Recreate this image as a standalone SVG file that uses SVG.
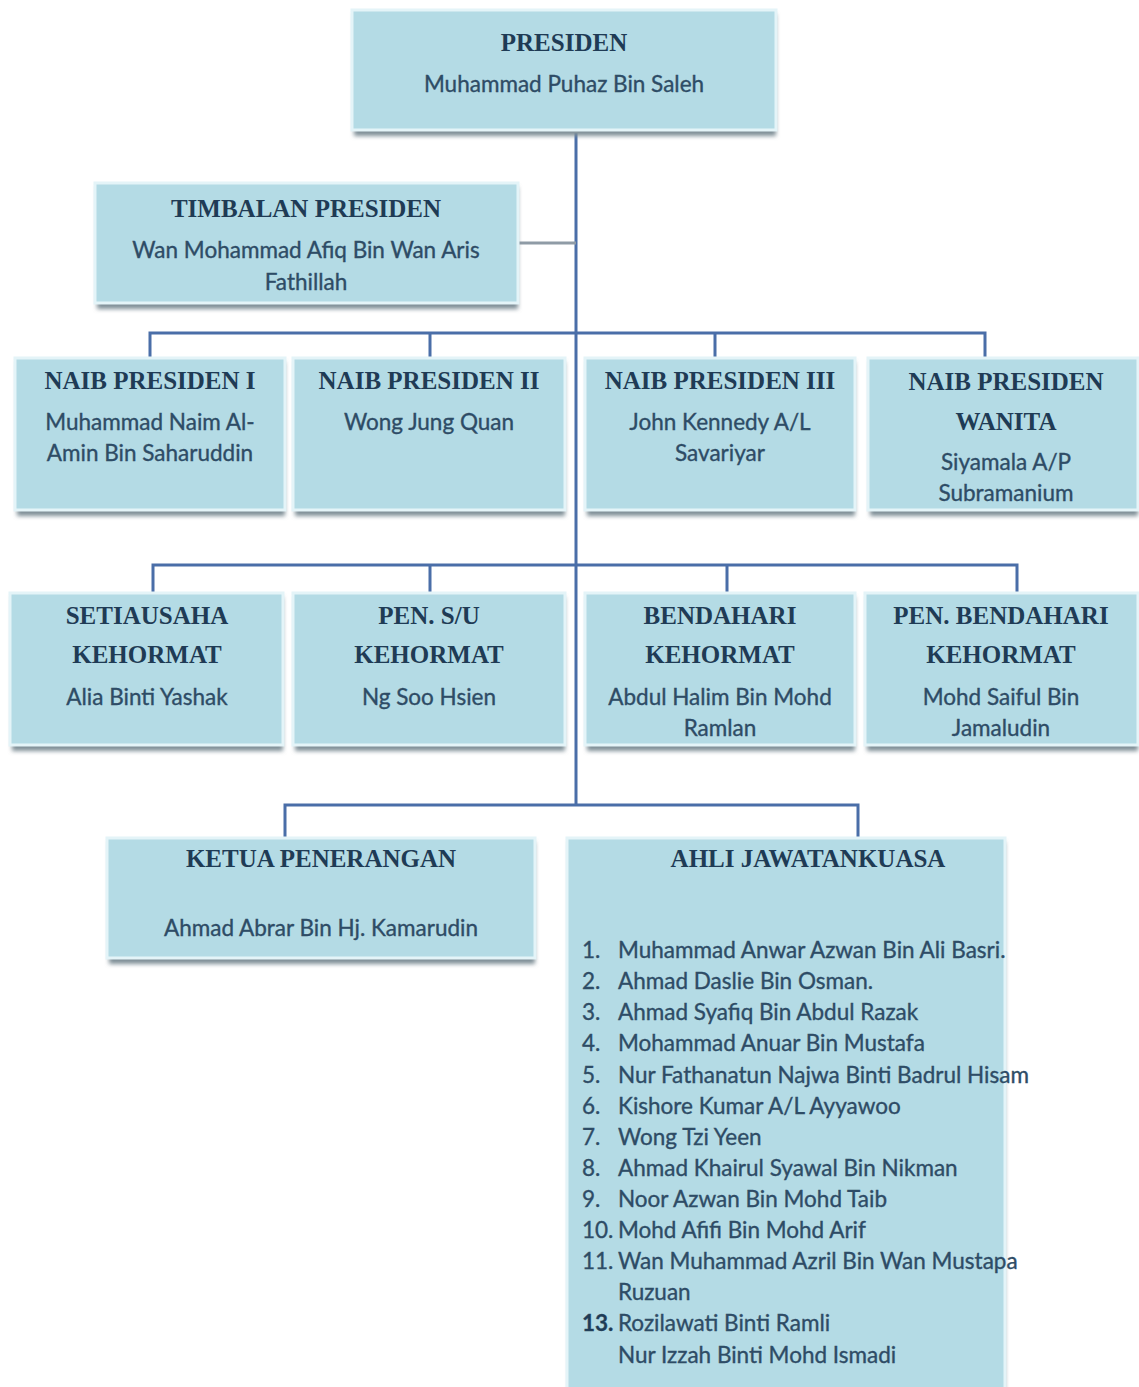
<svg xmlns="http://www.w3.org/2000/svg" width="1139" height="1387" viewBox="0 0 1139 1387">
<defs>
<filter id="sh" x="-5%" y="-5%" width="110%" height="120%">
<feGaussianBlur stdDeviation="2"/>
</filter>
</defs>
<style>
.shadow{fill:#7f8f97;filter:url(#sh)}
.box{fill:#b4dbe5;stroke:#e4f4f8;stroke-width:3}
.t{font-family:"Liberation Serif",serif;font-weight:bold;font-size:25px;fill:#1f3b55;text-anchor:middle}
.n{font-family:Lato,"Liberation Sans",sans-serif;font-size:22.5px;fill:#2e4c66;stroke:#2e4c66;stroke-width:0.35;text-anchor:middle}
.l{font-family:Lato,"Liberation Sans",sans-serif;font-size:22.5px;fill:#2e4c66;stroke:#2e4c66;stroke-width:0.35}
.c{fill:none;stroke:#4a6ea8;stroke-width:3}
.g{fill:none;stroke:#8f9ba6;stroke-width:3}
</style>
<rect width="1139" height="1387" fill="#ffffff"/>

<g id="connectors">
<path class="c" d="M576 133 V805"/>
<path class="g" d="M518 243 H576"/>
<path class="c" d="M150 358 V333 H985 V358 M430 333 V358 M715 333 V358"/>
<path class="c" d="M153 593 V565 H1017 V593 M430 565 V593 M727 565 V593"/>
<path class="c" d="M285 838 V805 H858 V838"/>
</g>

<g id="presiden">
<rect class="shadow" x="354" y="14" width="422" height="122"/>
<rect class="box" x="352" y="10" width="424" height="120"/>
<text class="t" x="564" y="51">PRESIDEN</text>
<text class="n" x="564" y="92">Muhammad Puhaz Bin Saleh</text>
</g>

<g id="timbalan">
<rect class="shadow" x="97" y="187" width="421" height="122"/>
<rect class="box" x="95" y="183" width="423" height="120"/>
<text class="t" x="306" y="217">TIMBALAN PRESIDEN</text>
<text class="n" x="306" y="258">Wan Mohammad Afiq Bin Wan Aris</text>
<text class="n" x="306" y="290">Fathillah</text>
</g>

<g id="naib1">
<rect class="shadow" x="17" y="362" width="268" height="154"/>
<rect class="box" x="15" y="358" width="270" height="152"/>
<text class="t" x="150" y="389">NAIB PRESIDEN I</text>
<text class="n" x="150" y="430">Muhammad Naim Al-</text>
<text class="n" x="150" y="461">Amin Bin Saharuddin</text>
</g>

<g id="naib2">
<rect class="shadow" x="295" y="362" width="270" height="154"/>
<rect class="box" x="293" y="358" width="272" height="152"/>
<text class="t" x="429" y="389">NAIB PRESIDEN II</text>
<text class="n" x="429" y="430">Wong Jung Quan</text>
</g>

<g id="naib3">
<rect class="shadow" x="587" y="362" width="268" height="154"/>
<rect class="box" x="585" y="358" width="270" height="152"/>
<text class="t" x="720" y="389">NAIB PRESIDEN III</text>
<text class="n" x="720" y="430">John Kennedy A/L</text>
<text class="n" x="720" y="461">Savariyar</text>
</g>

<g id="naibwanita">
<rect class="shadow" x="870" y="362" width="268" height="154"/>
<rect class="box" x="868" y="358" width="270" height="152"/>
<text class="t" x="1006" y="390">NAIB PRESIDEN</text>
<text class="t" x="1006" y="430">WANITA</text>
<text class="n" x="1006" y="470">Siyamala A/P</text>
<text class="n" x="1006" y="501">Subramanium</text>
</g>

<g id="setiausaha">
<rect class="shadow" x="12" y="597" width="271" height="154"/>
<rect class="box" x="10" y="593" width="273" height="152"/>
<text class="t" x="147" y="624">SETIAUSAHA</text>
<text class="t" x="147" y="663">KEHORMAT</text>
<text class="n" x="147" y="705">Alia Binti Yashak</text>
</g>

<g id="pensu">
<rect class="shadow" x="295" y="597" width="270" height="154"/>
<rect class="box" x="293" y="593" width="272" height="152"/>
<text class="t" x="429" y="624">PEN. S/U</text>
<text class="t" x="429" y="663">KEHORMAT</text>
<text class="n" x="429" y="705">Ng Soo Hsien</text>
</g>

<g id="bendahari">
<rect class="shadow" x="587" y="597" width="268" height="154"/>
<rect class="box" x="585" y="593" width="270" height="152"/>
<text class="t" x="720" y="624">BENDAHARI</text>
<text class="t" x="720" y="663">KEHORMAT</text>
<text class="n" x="720" y="705">Abdul Halim Bin Mohd</text>
<text class="n" x="720" y="736">Ramlan</text>
</g>

<g id="penbendahari">
<rect class="shadow" x="867" y="597" width="271" height="154"/>
<rect class="box" x="865" y="593" width="273" height="152"/>
<text class="t" x="1001" y="624">PEN. BENDAHARI</text>
<text class="t" x="1001" y="663">KEHORMAT</text>
<text class="n" x="1001" y="705">Mohd Saiful Bin</text>
<text class="n" x="1001" y="736">Jamaludin</text>
</g>

<g id="ketua">
<rect class="shadow" x="109" y="842" width="426" height="122"/>
<rect class="box" x="107" y="838" width="428" height="120"/>
<text class="t" x="321" y="867">KETUA PENERANGAN</text>
<text class="n" x="321" y="936">Ahmad Abrar Bin Hj. Kamarudin</text>
</g>

<g id="ahli">
<rect class="shadow" x="569" y="842" width="436" height="560"/>
<rect class="box" x="567" y="838" width="438" height="560"/>
<text class="t" x="808" y="867">AHLI JAWATANKUASA</text>
<text class="l" y="958"><tspan x="582">1.</tspan><tspan x="618">Muhammad Anwar Azwan Bin Ali Basri.</tspan></text>
<text class="l" y="989"><tspan x="582">2.</tspan><tspan x="618">Ahmad Daslie Bin Osman.</tspan></text>
<text class="l" y="1020"><tspan x="582">3.</tspan><tspan x="618">Ahmad Syafiq Bin Abdul Razak</tspan></text>
<text class="l" y="1051"><tspan x="582">4.</tspan><tspan x="618">Mohammad Anuar Bin Mustafa</tspan></text>
<text class="l" y="1083"><tspan x="582">5.</tspan><tspan x="618">Nur Fathanatun Najwa Binti Badrul Hisam</tspan></text>
<text class="l" y="1114"><tspan x="582">6.</tspan><tspan x="618">Kishore Kumar A/L Ayyawoo</tspan></text>
<text class="l" y="1145"><tspan x="582">7.</tspan><tspan x="618">Wong Tzi Yeen</tspan></text>
<text class="l" y="1176"><tspan x="582">8.</tspan><tspan x="618">Ahmad Khairul Syawal Bin Nikman</tspan></text>
<text class="l" y="1207"><tspan x="582">9.</tspan><tspan x="618">Noor Azwan Bin Mohd Taib</tspan></text>
<text class="l" y="1238"><tspan x="582">10.</tspan><tspan x="618">Mohd Afifi Bin Mohd Arif</tspan></text>
<text class="l" y="1269"><tspan x="582">11.</tspan><tspan x="618">Wan Muhammad Azril Bin Wan Mustapa</tspan></text>
<text class="l" y="1300"><tspan x="618">Ruzuan</tspan></text>
<text class="l" y="1331"><tspan x="582" font-weight="bold" fill="#1f3b55">13.</tspan><tspan x="618">Rozilawati Binti Ramli</tspan></text>
<text class="l" y="1363"><tspan x="618">Nur Izzah Binti Mohd Ismadi</tspan></text>
</g>
</svg>
